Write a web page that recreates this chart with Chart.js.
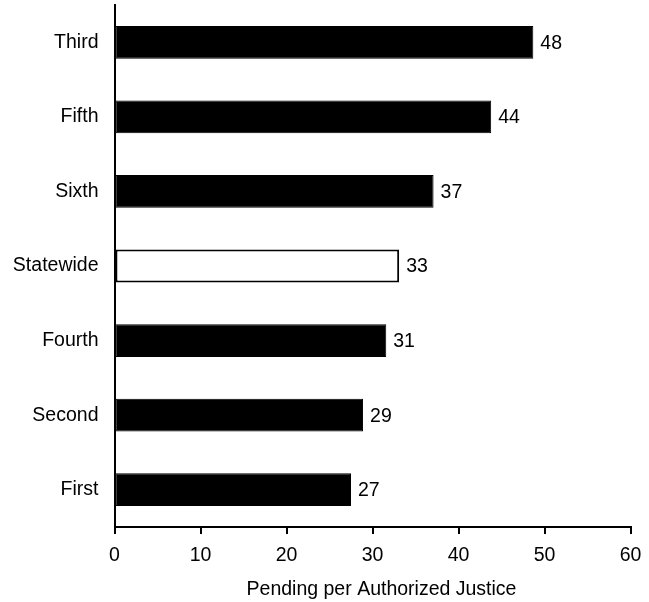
<!DOCTYPE html>
<html>
<head>
<meta charset="utf-8">
<script src="https://cdn.jsdelivr.net/npm/chart.js@4/dist/chart.umd.min.js"></script>
<style>
  html, body { margin: 0; padding: 0; background: #fff; }
  #wrap { width: 649px; height: 602px; position: relative; }
</style>
</head>
<body>
<div id="wrap"><canvas id="chart"></canvas></div>
<script>
const districts = ['Third', 'Fifth', 'Sixth', 'Statewide', 'Fourth', 'Second', 'First'];
const pending = [48.7, 43.8, 37.1, 33.1, 31.6, 28.9, 27.5];
const pendingLabels = ['48', '44', '37', '33', '31', '29', '27'];
const xTicks = [0, 10, 20, 30, 40, 50, 60];
const xTitle = 'Pending per Authorized Justice';

const FONT = { family: 'Liberation Sans, Arial, sans-serif', size: 19.5 };

const fills = districts.map(d => d === 'Statewide' ? '#ffffff' : '#000000');
const borders = districts.map(d => d === 'Statewide' ? 2 : 1);

// numbers past the bar ends, and the x title (sits a bit right of centre in the original)
const extraText = {
  id: 'extraText',
  afterDatasetsDraw(chart) {
    const ctx = chart.ctx;
    const meta = chart.getDatasetMeta(0);
    const area = chart.chartArea;
    ctx.save();
    ctx.fillStyle = '#000';
    ctx.font = `${FONT.size}px ${FONT.family}`;
    ctx.textAlign = 'left';
    ctx.textBaseline = 'middle';
    meta.data.forEach((bar, i) => {
      ctx.fillText(pendingLabels[i], bar.x + 7, bar.y + 1);
    });
    ctx.textAlign = 'center';
    ctx.fillText(xTitle, (area.left + area.right) / 2 + 9, chart.height - 12);
    ctx.restore();
  }
};

new Chart(document.getElementById('chart').getContext('2d'), {
  type: 'bar',
  data: {
    labels: districts,
    datasets: [{
      data: pending,
      backgroundColor: fills,
      borderColor: '#000',
      borderWidth: borders,
      borderSkipped: false,
      barPercentage: 0.44,
      categoryPercentage: 1
    }]
  },
  options: {
    indexAxis: 'y',
    responsive: true,
    maintainAspectRatio: false,
    animation: false,
    layout: { padding: { top: 5, right: 18.5, left: 0, bottom: 0 } },
    plugins: {
      legend: { display: false },
      tooltip: { enabled: false }
    },
    scales: {
      x: {
        min: 0,
        max: 60,
        afterBuildTicks: axis => { axis.ticks = xTicks.map(v => ({ value: v })); },
        afterFit: axis => {
          axis.height = 75;
          axis.paddingLeft = 0;
          axis.paddingRight = 0;
        },
        border: { display: true, color: '#000', width: 2 },
        grid: { display: true, drawOnChartArea: false, drawTicks: true, tickLength: 7, color: '#000', lineWidth: 2 },
        ticks: { color: '#000', font: FONT, padding: 10, maxRotation: 0 }
      },
      y: {
        afterFit: axis => {
          axis.width = 114.5;
          axis.paddingTop = 0;
          axis.paddingBottom = 0;
        },
        border: { display: true, color: '#000', width: 2 },
        grid: { display: false },
        ticks: { color: '#000', font: FONT, padding: 8 }
      }
    }
  },
  plugins: [extraText]
});
</script>
</body>
</html>
